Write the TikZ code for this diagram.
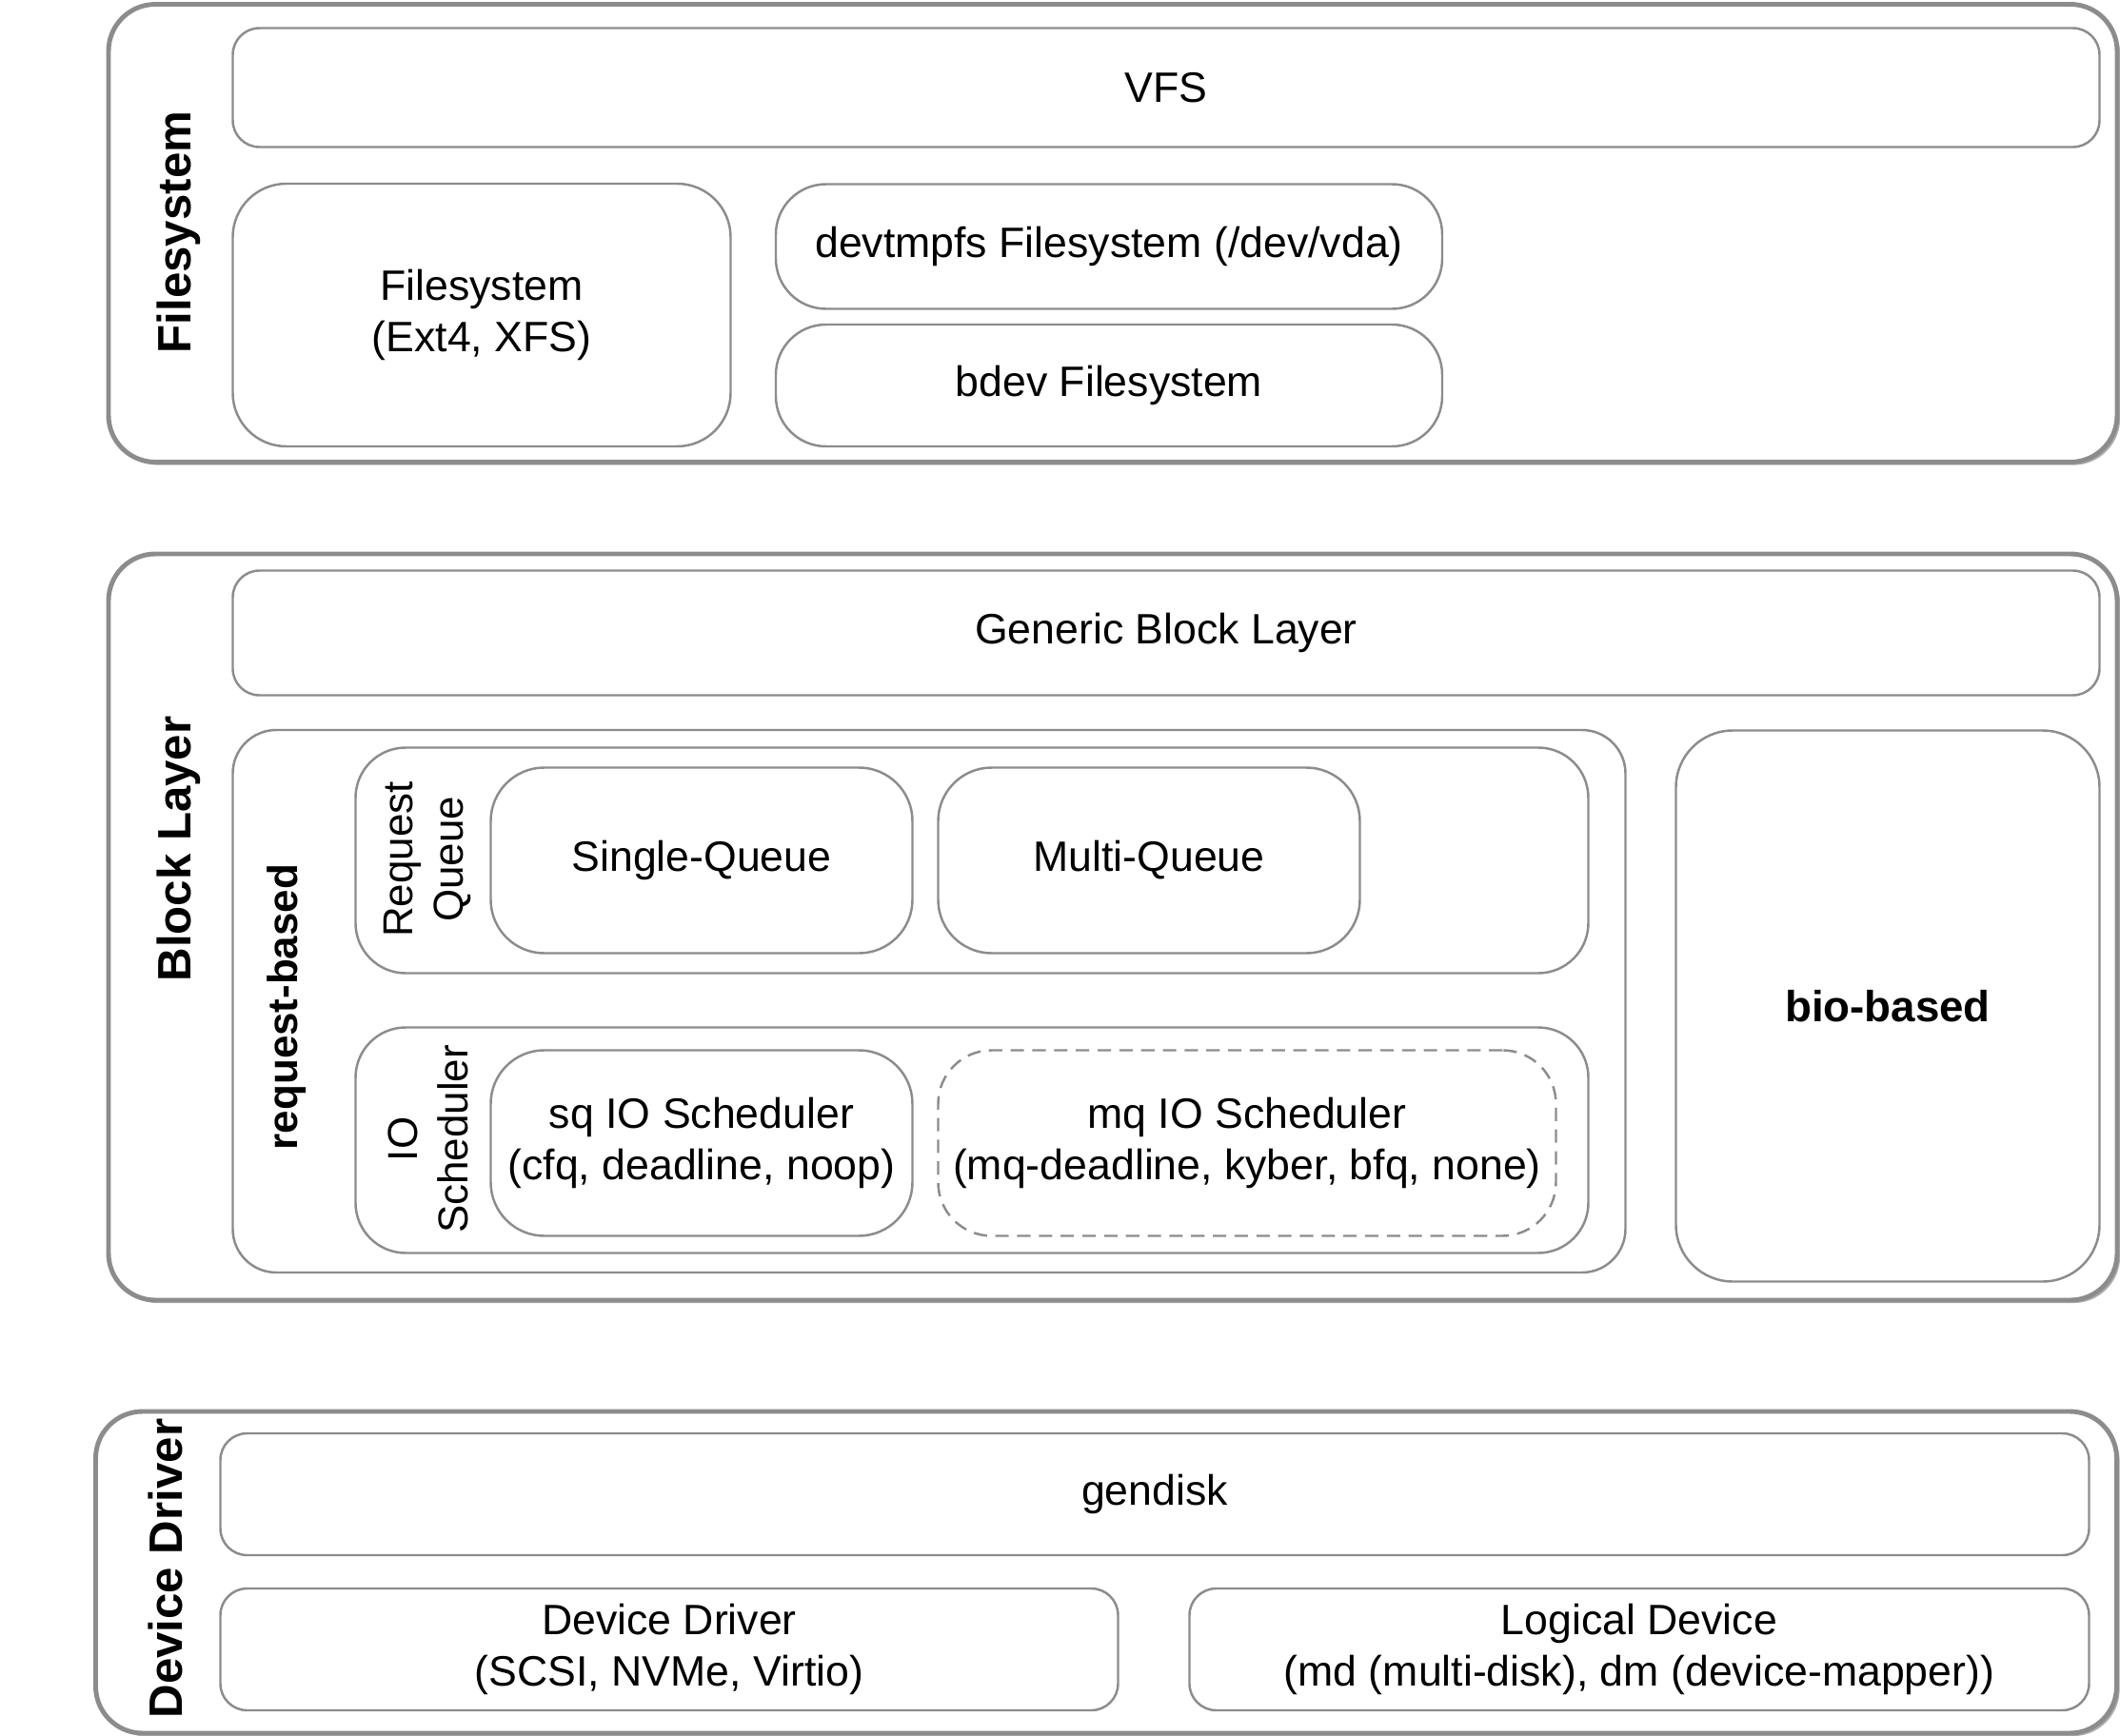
\documentclass[tikz,border=0pt]{standalone}
\usepackage{fontspec}
\setmainfont{Liberation Sans}
\usetikzlibrary{shadows}
\definecolor{linegray}{HTML}{8C8C8C}

\begin{document}
\begin{tikzpicture}[x=1cm, y=-1cm,
    layer/.style={draw=linegray, line width=1.4pt, rounded corners=14pt, fill=white,
      drop shadow={shadow xshift=0.9pt, shadow yshift=-0.9pt, fill=linegray, opacity=0.7}},
    box/.style={draw=linegray, line width=0.7pt, fill=white, align=center, inner sep=0pt,
      font=\fontsize{12.7}{15.3}\selectfont},
    dashbox/.style={box, dash pattern=on 4pt off 2.5pt},
    title/.style={rotate=90, font=\fontsize{14}{17}\selectfont\bfseries},
    sublabel/.style={rotate=90, align=center, font=\fontsize{12.5}{15}\selectfont}
  ]
    \useasboundingbox (0,0) rectangle (22.27,18.24);

    % filesystem layer
    \node[layer, minimum width=21.1cm, minimum height=4.81cm] (fslayer) at (11.69,2.45) {};
    \node[title] (fstitle) at (1.88,2.44) {Filesystem};
    \node[box, rounded corners=8pt, minimum width=19.61cm, minimum height=1.25cm] (vfs) at (12.25,0.92) {VFS};
    \node[box, rounded corners=16pt, minimum width=5.23cm, minimum height=2.76cm] (extfs) at (5.06,3.31) {Filesystem\\(Ext4, XFS)};
    \node[box, rounded corners=15pt, minimum width=7.0cm, minimum height=1.31cm] (devtmpfs) at (11.65,2.59) {devtmpfs Filesystem (/dev/vda)};
    \node[box, rounded corners=15pt, minimum width=7.0cm, minimum height=1.28cm] (bdevfs) at (11.65,4.05) {bdev Filesystem};

    % block layer
    \node[layer, minimum width=21.1cm, minimum height=7.84cm] (blklayer) at (11.69,9.74) {};
    \node[title] (blktitle) at (1.88,8.92) {Block Layer};
    \node[box, rounded corners=8pt, minimum width=19.61cm, minimum height=1.31cm] (generic) at (12.25,6.65) {Generic Block Layer};
    \node[box, rounded corners=13pt, minimum width=14.63cm, minimum height=5.70cm] (reqbased) at (9.76,10.52) {};
    \node[rotate=90, font=\fontsize{12.5}{15}\selectfont\bfseries] (reqtitle) at (3.01,10.58) {request-based};
    \node[box, rounded corners=15pt, minimum width=12.95cm, minimum height=2.37cm] (reqqueue) at (10.21,9.04) {};
    \node[sublabel] (rqtitle) at (4.49,9.03) {Request\\Queue};
    \node[box, rounded corners=16pt, minimum width=4.43cm, minimum height=1.95cm] (single) at (7.37,9.04) {Single-Queue};
    \node[box, rounded corners=16pt, minimum width=4.43cm, minimum height=1.95cm] (multi) at (12.07,9.04) {Multi-Queue};
    \node[box, rounded corners=15pt, minimum width=12.95cm, minimum height=2.37cm] (iosched) at (10.21,11.98) {};
    \node[sublabel] (iotitle) at (4.50,11.97) {IO\\Scheduler};
    \node[box, rounded corners=16pt, minimum width=4.43cm, minimum height=1.95cm] (sqsched) at (7.37,12.01) {sq IO Scheduler\\(cfq, deadline, noop)};
    \node[dashbox, rounded corners=16pt, minimum width=6.49cm, minimum height=1.95cm] (mqsched) at (13.10,12.01) {mq IO Scheduler\\(mq-deadline, kyber, bfq, none)};
    \node[box, rounded corners=17pt, minimum width=4.45cm, minimum height=5.79cm,
      font=\fontsize{13}{15.5}\selectfont\bfseries] (biobased) at (19.83,10.57) {bio-based};

    % device driver layer
    \node[layer, minimum width=21.23cm, minimum height=3.38cm] (drvlayer) at (11.62,16.52) {};
    \node[title] (drvtitle) at (1.74,16.48) {Device Driver};
    \node[box, rounded corners=8pt, minimum width=19.63cm, minimum height=1.28cm] (gendisk) at (12.13,15.70) {gendisk};
    \node[box, rounded corners=8pt, minimum width=9.43cm, minimum height=1.28cm] (driver) at (7.03,17.33) {Device Driver\\(SCSI, NVMe, Virtio)};
    \node[box, rounded corners=8pt, minimum width=9.45cm, minimum height=1.28cm] (logical) at (17.22,17.33) {Logical Device\\(md (multi-disk), dm (device-mapper))};
  \end{tikzpicture}
\end{document}
